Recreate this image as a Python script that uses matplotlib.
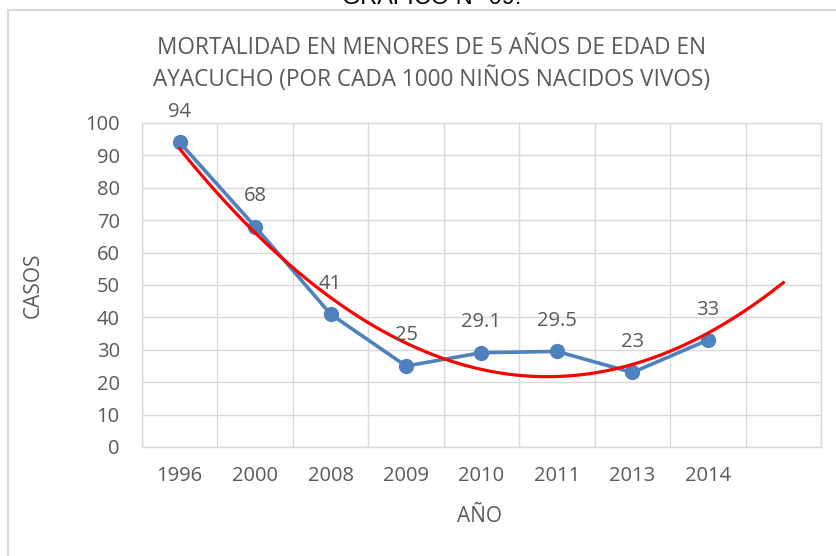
import numpy as np
import matplotlib
matplotlib.use("Agg")
import matplotlib.pyplot as plt
from matplotlib.lines import Line2D

years = ["1996", "2000", "2008", "2009", "2010", "2011", "2013", "2014"]
values = [94, 68, 41, 25, 29.1, 29.5, 23, 33]
labels = ["94", "68", "41", "25", "29.1", "29.5", "23", "33"]

plt.rcParams['font.family'] = ['Open Sans', 'DejaVu Sans']
gray = '#595959'
grid = '#d9d9d9'

W, H = 837, 556
fig = plt.figure(figsize=(W/100, H/100), dpi=100)
ax = fig.add_axes([142/W, 1-447/H, (821-142)/W, (447-123)/H])

x = np.arange(len(years))
# polynomial (order 2) trendline, forecast forward 1 period
coef = np.polyfit(x, values, 2)
xt = np.linspace(0, len(years), 200)
ax.plot(xt, np.polyval(coef, xt), color='#ff0000', lw=2.3, zorder=4)

ax.plot(x, values, color='#4f81bd', lw=2.6, marker='o', markersize=10,
        zorder=3)
for xi, v, lab in zip(x, values, labels):
    ax.annotate(lab, (xi, v), xytext=(0, 22), textcoords='offset points',
                ha='center', va='center', fontsize=14.5, color=gray, zorder=5)

ax.set_xlim(-0.5, len(years) + 0.5)
ax.set_ylim(0, 100)
ax.set_yticks(np.arange(0, 101, 10))
ax.set_xticks(x)
ax.set_xticklabels(years)
ax.set_xticks(np.arange(-0.5, len(years) + 1, 1), minor=True)
ax.grid(True, which='minor', axis='x', color=grid, lw=1)
ax.grid(True, which='major', axis='y', color=grid, lw=1)
ax.set_axisbelow(True)
ax.tick_params(which='both', length=0)
ax.tick_params(axis='y', pad=16, labelsize=14.5, labelcolor=gray)
ax.tick_params(axis='x', pad=14, labelsize=14.5, labelcolor=gray)
for s in ax.spines.values():
    s.set_color(grid)
    s.set_linewidth(1)

fig.text(33/W, 1-285/H, 'CASOS', rotation=90, ha='center', va='center',
         fontsize=15, color=gray)
fig.text(480/W, 1-516/H, 'AÑO', ha='center', va='center',
         fontsize=15, color=gray)
fig.text(432/W, 1-64/H,
         'MORTALIDAD EN MENORES DE 5 AÑOS DE EDAD EN\nAYACUCHO (POR CADA 1000 NIÑOS NACIDOS VIVOS)',
         ha='center', va='center', fontsize=16.3, color=gray, linespacing=1.3)

# chart frame (cropped)
fig.add_artist(Line2D([8/W, 1], [1-10/H, 1-10/H], color=grid, lw=1.5,
                      transform=fig.transFigure))
fig.add_artist(Line2D([8/W, 8/W], [0, 1-10/H], color=grid, lw=1.5,
                      transform=fig.transFigure))
# cut-off heading above the chart
fig.text(432/W, 1-4/H, 'GRÁFICO N° 09:', ha='center', va='baseline',
         fontsize=17, color='black', family=['Liberation Sans'])

fig.savefig('out.png', dpi=100)
